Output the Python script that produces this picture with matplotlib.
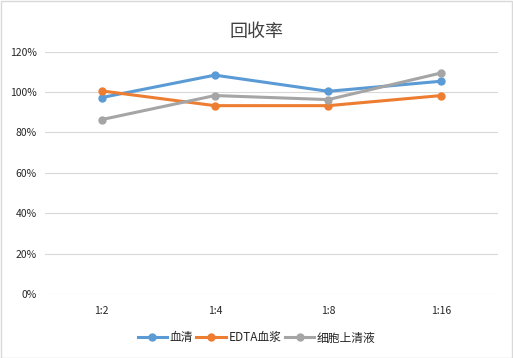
import matplotlib
matplotlib.use("Agg")
from matplotlib import pyplot as plt
from matplotlib.ticker import PercentFormatter
from matplotlib.patches import Rectangle

plt.rcParams['font.family'] = ['Noto Sans CJK SC', 'DejaVu Sans']

categories = ["1:2", "1:4", "1:8", "1:16"]
serum = [0.972, 1.083, 1.003, 1.053]
edta = [1.005, 0.932, 0.932, 0.982]
supernatant = [0.863, 0.982, 0.962, 1.094]
names = ["血清", "EDTA血浆", "细胞上清液"]
colors = ["#5B9BD5", "#ED7D31", "#A5A5A5"]

W, H = 513, 358
fig = plt.figure(figsize=(W / 100, H / 100), dpi=100)
fig.patches.append(Rectangle((0.5 / W, 0.5 / H), 1 - 1.5 / W, 1 - 1.5 / H,
                             transform=fig.transFigure, fill=False,
                             edgecolor="#D9D9D9", linewidth=1))

ax = fig.add_axes([45 / W, (H - 294) / H, 453 / W, (294 - 51.5) / H])
x = range(len(categories))
for vals, name, c in zip([serum, edta, supernatant], names, colors):
    ax.plot(x, vals, color=c, lw=2.2, marker="o", ms=5, label=name)

ax.set_xlim(-0.5, len(categories) - 0.5)
ax.set_ylim(0, 1.2)
ax.set_yticks([0, 0.2, 0.4, 0.6, 0.8, 1.0, 1.2])
ax.yaxis.set_major_formatter(PercentFormatter(1.0, decimals=0))
ax.set_xticks(list(x))
ax.set_xticklabels(categories)
ax.grid(axis="y", color="#D9D9D9", lw=0.8)
ax.set_axisbelow(True)
for s in ax.spines.values():
    s.set_visible(False)
ax.tick_params(length=0, labelsize=7.5, colors="#262626", pad=6)
ax.tick_params(axis="x", pad=9)

fig.text(0.5, (H - 32) / H, "回收率", ha="center", va="center", fontsize=13,
         color="#404040", fontweight="light")
fig.legend(loc="center", bbox_to_anchor=(0.5, (H - 338) / H), ncol=3, frameon=False,
           fontsize=8.5, handlelength=2.5, handletextpad=0.2, columnspacing=0.3,
           labelcolor="#262626")

fig.savefig("out.png", dpi=100)
